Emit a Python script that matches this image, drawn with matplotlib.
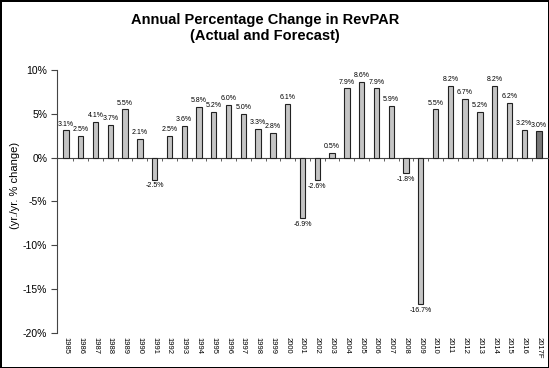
import numpy as np
import matplotlib.pyplot as plt

years = ['1985', '1986', '1987', '1988', '1989', '1990', '1991', '1992', '1993', '1994',
         '1995', '1996', '1997', '1998', '1999', '2000', '2001', '2002', '2003', '2004',
         '2005', '2006', '2007', '2008', '2009', '2010', '2011', '2012', '2013', '2014',
         '2015', '2016', '2017F']
changes = [3.1, 2.5, 4.1, 3.7, 5.5, 2.1, -2.5, 2.5, 3.6, 5.8,
           5.2, 6.0, 5.0, 3.3, 2.8, 6.1, -6.9, -2.6, 0.5, 7.9,
           8.6, 7.9, 5.9, -1.8, -16.7, 5.5, 8.2, 6.7, 5.2, 8.2,
           6.2, 3.2, 3.0]
forecast = ['2017F']

plt.rcParams['font.family'] = ['Liberation Sans', 'DejaVu Sans']

fig = plt.figure(figsize=(5.49, 3.68), dpi=100)
fig.patch.set_edgecolor('black')
fig.patch.set_linewidth(2)
ax = fig.add_axes([0.104, 0.095, 0.894, 0.715])

x = np.arange(len(years))
colors = ['#777777' if y in forecast else '#c4c4c4' for y in years]
bars = ax.bar(x, changes, width=0.36, color=colors, edgecolor='#222222', linewidth=0.8, zorder=3)

for xi, v in zip(x, changes):
    if v >= 0:
        ax.annotate(f'{v:.1f}%', (xi, v), xytext=(0, 2), textcoords='offset points',
                    ha='center', va='bottom', fontsize=5)
    else:
        ax.annotate(f'{v:.1f}%', (xi, v), xytext=(0, -2), textcoords='offset points',
                    ha='center', va='top', fontsize=5)

ax.set_ylim(-20, 10)
ax.set_xlim(-0.6, len(years) - 0.4)
ax.set_yticks([10, 5, 0, -5, -10, -15, -20])
ax.set_yticklabels([f'{t}%' for t in [10, 5, 0, -5, -10, -15, -20]], fontsize=7.5)
ax.tick_params(axis='y', length=4, width=0.8, color='#444444', pad=3)

ax.spines['top'].set_visible(False)
ax.spines['right'].set_visible(False)
ax.spines['left'].set_color('#444444')
ax.spines['bottom'].set_position(('data', 0))
ax.spines['bottom'].set_color('#444444')
ax.spines['bottom'].set_linewidth(0.8)

ax.set_xticks(x[:-1] + 0.5)
ax.set_xticklabels([])
ax.tick_params(axis='x', length=2, width=0.6, color='#444444')

sec = ax.secondary_xaxis('bottom')
sec.set_xticks(x)
sec.set_xticklabels(years, rotation=-90, fontsize=5.5)
sec.tick_params(length=0, pad=3)
sec.spines['bottom'].set_visible(False)

ax.set_ylabel('(yr./yr. % change)', fontsize=8)
ax.yaxis.set_label_coords(-0.076, 0.56)
fig.suptitle('Annual Percentage Change in RevPAR\n(Actual and Forecast)',
             fontsize=10.5, fontweight='bold', x=0.483, y=0.965)

fig.savefig('out.png', dpi=100, edgecolor=fig.get_edgecolor())
